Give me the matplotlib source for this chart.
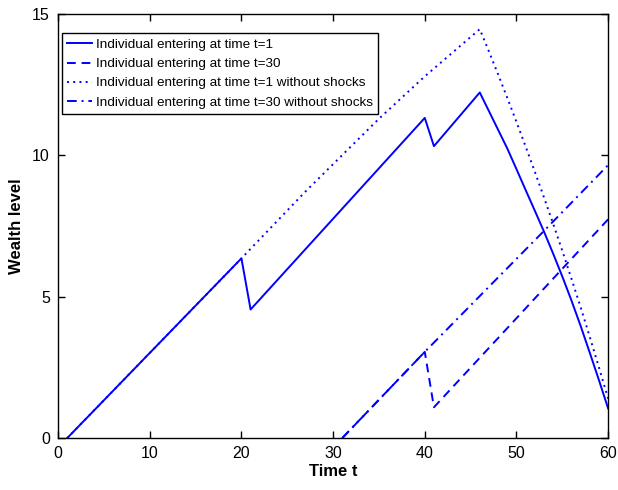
import matplotlib
matplotlib.use("Agg")
import matplotlib.pyplot as plt

plt.rcParams['font.family'] = ['Liberation Sans', 'DejaVu Sans']

# individual entering at t=1 (with shocks)
t1 = [1, 20, 21, 40, 41, 46, 47, 48, 49, 50, 51, 52, 53, 54, 55, 56, 57, 58, 59, 60]
w1 = [0, 6.36, 4.55, 11.33, 10.33, 12.23, 11.57, 10.91, 10.25, 9.52, 8.78, 8.05,
      7.31, 6.53, 5.72, 4.87, 3.97, 3.02, 2.05, 1.05]

# individual entering at t=30 (with shocks)
t30 = [31, 40, 41, 60]
w30 = [0, 3.05, 1.09, 7.74]

# individual entering at t=1 without shocks
t1_ns = [1, 20, 27, 35, 40, 46, 47, 48, 49, 50, 51, 52, 53, 54, 55, 56, 57, 58, 59, 60]
w1_ns = [0, 6.36, 8.73, 11.3, 12.8, 14.47, 13.68, 12.87, 12.04, 11.19, 10.32, 9.43,
         8.52, 7.59, 6.63, 5.64, 4.63, 3.58, 2.5, 1.4]

# individual entering at t=30 without shocks
t30_ns = [31, 40, 53, 60]
w30_ns = [0, 3.05, 7.33, 9.66]

labels = ['Individual entering at time t=1',
          'Individual entering at time t=30',
          'Individual entering at time t=1 without shocks',
          'Individual entering at time t=30 without shocks']

fig = plt.figure(figsize=(6.18, 4.9), dpi=100)
ax = fig.add_axes([0.094, 0.106, 0.890, 0.865])

blue = '#0000ff'
ax.plot(t1, w1, color=blue, lw=1.4, ls='-', label=labels[0])
ax.plot(t30, w30, color=blue, lw=1.4, ls=(0, (4.5, 3)), label=labels[1])
ax.plot(t1_ns, w1_ns, color=blue, lw=1.4, ls=(0, (1, 2.2)), label=labels[2])
ax.plot(t30_ns, w30_ns, color=blue, lw=1.4, ls=(0, (5, 2.5, 1, 2.5)), label=labels[3])

ax.set_xlim(0, 60)
ax.set_ylim(0, 15)
ax.set_xticks([0, 10, 20, 30, 40, 50, 60])
ax.set_yticks([0, 5, 10, 15])
ax.tick_params(direction='in', top=True, right=True, length=5, width=1, labelsize=11.5)
ax.tick_params(axis='x', pad=6)
ax.tick_params(axis='y', pad=6)
for s in ax.spines.values():
    s.set_linewidth(1.0)

ax.set_xlabel('Time t', fontsize=12, fontweight='bold', labelpad=2)
ax.set_ylabel('Wealth level', fontsize=12, fontweight='bold', labelpad=6)

leg = ax.legend(loc='upper left', bbox_to_anchor=(0.007, 0.955), borderaxespad=0,
                fontsize=9.7, handlelength=1.8, handletextpad=0.3, labelspacing=0.5,
                fancybox=False, edgecolor='black', framealpha=1)
leg.get_frame().set_linewidth(1.0)

fig.savefig('out.png', dpi=100)
